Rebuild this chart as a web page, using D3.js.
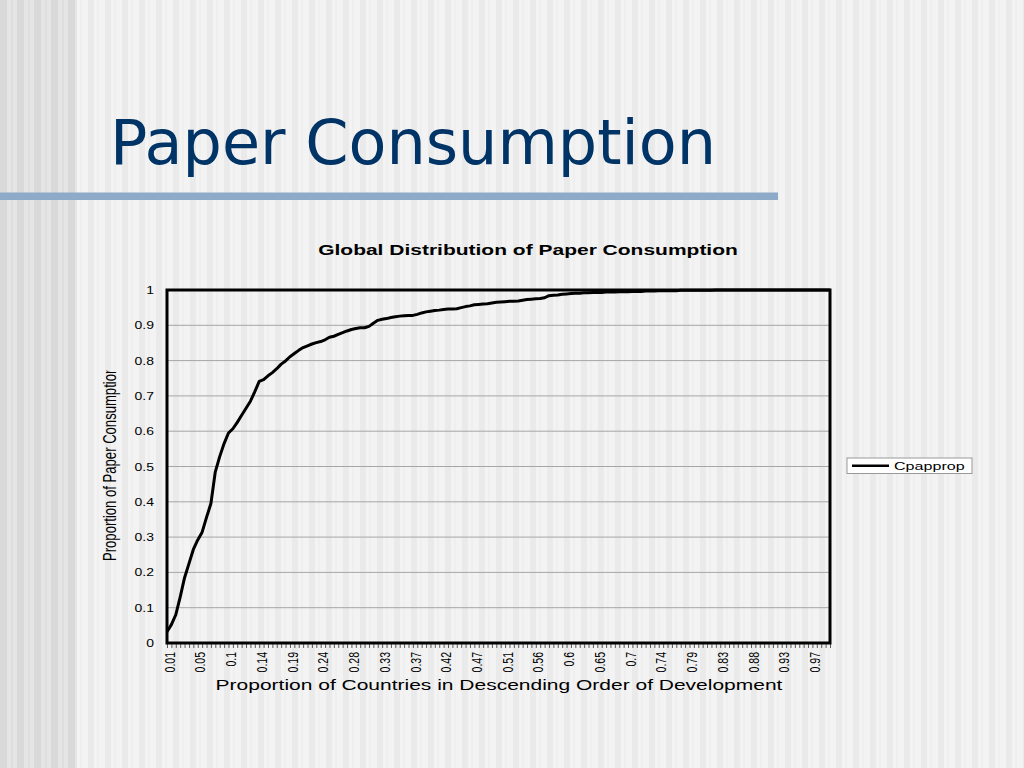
<!DOCTYPE html>
<html>
<head>
<meta charset="utf-8">
<script src="https://cdn.jsdelivr.net/npm/d3@7"></script>
<style>
  html, body { margin: 0; padding: 0; background: #f2f2f2; }
  svg { display: block; }
</style>
</head>
<body>
<svg id="chart" width="1024" height="768"></svg>
<script>
// ---------------- data ----------------
const slideTitle = "Paper Consumption";
const chartTitle = "Global Distribution of Paper Consumption";
const xAxisTitle = "Proportion of Countries in Descending Order of Development";
const yAxisTitle = "Proportion of Paper Consumption";
const seriesName = "Cpapprop";

const xTickLabels = ["0.01","0.05","0.1","0.14","0.19","0.24","0.28","0.33","0.37","0.42","0.47",
                     "0.51","0.56","0.6","0.65","0.7","0.74","0.79","0.83","0.88","0.93","0.97"];
const xLabelEvery = 7;

const yTickValues = [0, 0.1, 0.2, 0.3, 0.4, 0.5, 0.6, 0.7, 0.8, 0.9, 1];
const yTickLabels = ["0","0.1","0.2","0.3","0.4","0.5","0.6","0.7","0.8","0.9","1"];

// cumulative proportion of paper consumption, one value per country (152 countries)
const cpapprop = [
  0.032, 0.052, 0.080, 0.130, 0.185, 0.225, 0.265, 0.292, 0.314, 0.356,
  0.395, 0.485, 0.528, 0.565, 0.595, 0.607, 0.625, 0.645, 0.665, 0.685,
  0.712, 0.741, 0.746, 0.757, 0.766, 0.777, 0.790, 0.799, 0.811, 0.820,
  0.829, 0.837, 0.842, 0.847, 0.851, 0.854, 0.859, 0.866, 0.869, 0.874,
  0.879, 0.884, 0.888, 0.891, 0.893, 0.893, 0.897, 0.906, 0.914, 0.917,
  0.919, 0.922, 0.924, 0.926, 0.927, 0.928, 0.928, 0.931, 0.935, 0.938,
  0.940, 0.942, 0.943, 0.945, 0.946, 0.946, 0.947, 0.950, 0.953, 0.955,
  0.958, 0.959, 0.960, 0.961, 0.963, 0.965, 0.966, 0.967, 0.968, 0.968,
  0.969, 0.971, 0.973, 0.974, 0.975, 0.976, 0.978, 0.984, 0.985, 0.986,
  0.988, 0.989, 0.990, 0.991, 0.991, 0.992, 0.992, 0.993, 0.993, 0.993,
  0.994, 0.994, 0.994, 0.995, 0.995, 0.995, 0.996, 0.996, 0.996, 0.997,
  0.997, 0.997, 0.998, 0.998, 0.998, 0.998, 0.998, 0.999, 0.999, 0.999,
  0.999, 0.999, 0.999, 0.999, 0.999, 1.000, 1.000, 1.000, 1.000, 1.000,
  1.000, 1.000, 1.000, 1.000, 1.000, 1.000, 1.000, 1.000, 1.000, 1.000,
  1.000, 1.000, 1.000, 1.000, 1.000, 1.000, 1.000, 1.000, 1.000, 1.000,
  1.000, 1.000
];

// ---------------- drawing ----------------
const svg = d3.select("#chart");
const W = 1024, H = 768;
const SX = 1.4; // horizontal stretch of the pasted chart's text
const FONT = "'Liberation Sans', Arial, sans-serif";

// background stripes
const defs = svg.append("defs");
const pR = defs.append("pattern").attr("id", "stripesR").attr("patternUnits", "userSpaceOnUse")
  .attr("width", 17).attr("height", 10);
pR.append("rect").attr("width", 17).attr("height", 10).attr("fill", "#f3f3f3");
pR.append("rect").attr("x", 3).attr("width", 6).attr("height", 10).attr("fill", "#eaeaea");
pR.append("rect").attr("x", 12).attr("width", 2).attr("height", 10).attr("fill", "#efefef");
const pL = defs.append("pattern").attr("id", "stripesL").attr("patternUnits", "userSpaceOnUse")
  .attr("width", 17).attr("height", 10);
pL.append("rect").attr("width", 17).attr("height", 10).attr("fill", "#e5e5e5");
pL.append("rect").attr("x", 0).attr("width", 7).attr("height", 10).attr("fill", "#d9d9d9");
pL.append("rect").attr("x", 11).attr("width", 2).attr("height", 10).attr("fill", "#dedede");

svg.append("rect").attr("width", W).attr("height", H).attr("fill", "url(#stripesR)");
svg.append("rect").attr("width", 77).attr("height", H).attr("fill", "url(#stripesL)");

// slide title
svg.append("text")
  .attr("x", 110).attr("y", 164)
  .attr("font-family", "'DejaVu Sans', Verdana, sans-serif")
  .attr("font-size", 62)
  .attr("fill", "#003366")
  .text(slideTitle);

// blue rule
svg.append("rect").attr("x", 0).attr("y", 192.5).attr("width", 778).attr("height", 7.5)
  .attr("fill", "#8eaac9");

// plot geometry
const plot = { left: 167, right: 830, top: 290, bottom: 643 };
const idx = cpapprop.map((_, i) => i);

const x = d3.scalePoint().domain(idx).range([plot.left, plot.right]).padding(0);
const y = d3.scaleLinear().domain([0, 1]).range([plot.bottom, plot.top]);

// gridlines
svg.append("g")
  .selectAll("line")
  .data(yTickValues.filter(v => v > 0 && v < 1))
  .join("line")
  .attr("x1", plot.left).attr("x2", plot.right)
  .attr("y1", d => y(d)).attr("y2", d => y(d))
  .attr("stroke", "#a6a6a6").attr("stroke-width", 1);

// minor ticks: one per country
const minor = svg.append("g").attr("transform", `translate(0,${plot.bottom})`)
  .call(d3.axisBottom(x).tickValues(idx).tickSize(5).tickFormat(""));
minor.select(".domain").remove();
minor.selectAll("line").attr("stroke", "#333").attr("stroke-width", 0.8);

// x-axis labels
const labelIdx = xTickLabels.map((_, k) => idx[k * xLabelEvery]);
const xAxis = svg.append("g").attr("transform", `translate(0,${plot.bottom})`)
  .call(d3.axisBottom(x).tickValues(labelIdx).tickSize(0)
    .tickFormat((d, i) => xTickLabels[i]));
xAxis.select(".domain").remove();
xAxis.selectAll("text")
  .attr("x", 0).attr("y", 0).attr("dy", "0.35em")
  .attr("text-anchor", "end")
  .attr("transform", `translate(2,9) scale(${SX},1) rotate(-90)`)
  .attr("font-family", FONT).attr("font-size", 10.5).attr("fill", "#000");

// y-axis labels
const yAxis = svg.append("g").attr("transform", `translate(${plot.left},0)`)
  .call(d3.axisLeft(y).tickValues(yTickValues).tickSize(0)
    .tickFormat((d, i) => yTickLabels[i]));
yAxis.select(".domain").remove();
yAxis.selectAll("text")
  .attr("x", 0).attr("dy", "0.35em")
  .attr("text-anchor", "end")
  .attr("transform", `translate(-13,0) scale(${SX},1)`)
  .attr("font-family", FONT).attr("font-size", 10).attr("fill", "#000");

// series line
const line = d3.line().x((d, i) => x(idx[i])).y(d => y(d));
svg.append("path")
  .datum(cpapprop)
  .attr("d", line)
  .attr("fill", "none")
  .attr("stroke", "#000")
  .attr("stroke-width", 3)
  .attr("stroke-linejoin", "round");

// plot frame
svg.append("rect")
  .attr("x", plot.left).attr("y", plot.top)
  .attr("width", plot.right - plot.left).attr("height", plot.bottom - plot.top)
  .attr("fill", "none").attr("stroke", "#000").attr("stroke-width", 3);

// chart title
svg.append("text")
  .attr("transform", `translate(528,255) scale(${SX},1)`)
  .attr("text-anchor", "middle")
  .attr("font-family", FONT).attr("font-weight", "bold").attr("font-size", 15)
  .attr("fill", "#000")
  .text(chartTitle);

// x-axis title
svg.append("text")
  .attr("transform", `translate(499,690) scale(${SX},1)`)
  .attr("text-anchor", "middle")
  .attr("font-family", FONT).attr("font-size", 15)
  .attr("fill", "#000")
  .text(xAxisTitle);

// y-axis title (clipped at top as in the original)
defs.append("clipPath").attr("id", "yTitleClip")
  .append("rect").attr("x", 80).attr("y", 370.5).attr("width", 60).attr("height", 220);
svg.append("g").attr("clip-path", "url(#yTitleClip)")
  .append("text")
  .attr("transform", `translate(116,561) scale(${SX},1) rotate(-90)`)
  .attr("text-anchor", "start")
  .attr("font-family", FONT).attr("font-size", 13.1)
  .attr("fill", "#000")
  .text(yAxisTitle);

// legend
const lg = svg.append("g");
lg.append("rect").attr("x", 847).attr("y", 458).attr("width", 125).attr("height", 15.5)
  .attr("fill", "#fff").attr("stroke", "#999").attr("stroke-width", 1);
lg.append("line").attr("x1", 852).attr("x2", 889).attr("y1", 465.8).attr("y2", 465.8)
  .attr("stroke", "#000").attr("stroke-width", 2.5);
lg.append("text")
  .attr("transform", `translate(894,470) scale(${SX},1)`)
  .attr("font-family", FONT).attr("font-size", 11.5).attr("fill", "#000")
  .text(seriesName);
</script>
</body>
</html>
